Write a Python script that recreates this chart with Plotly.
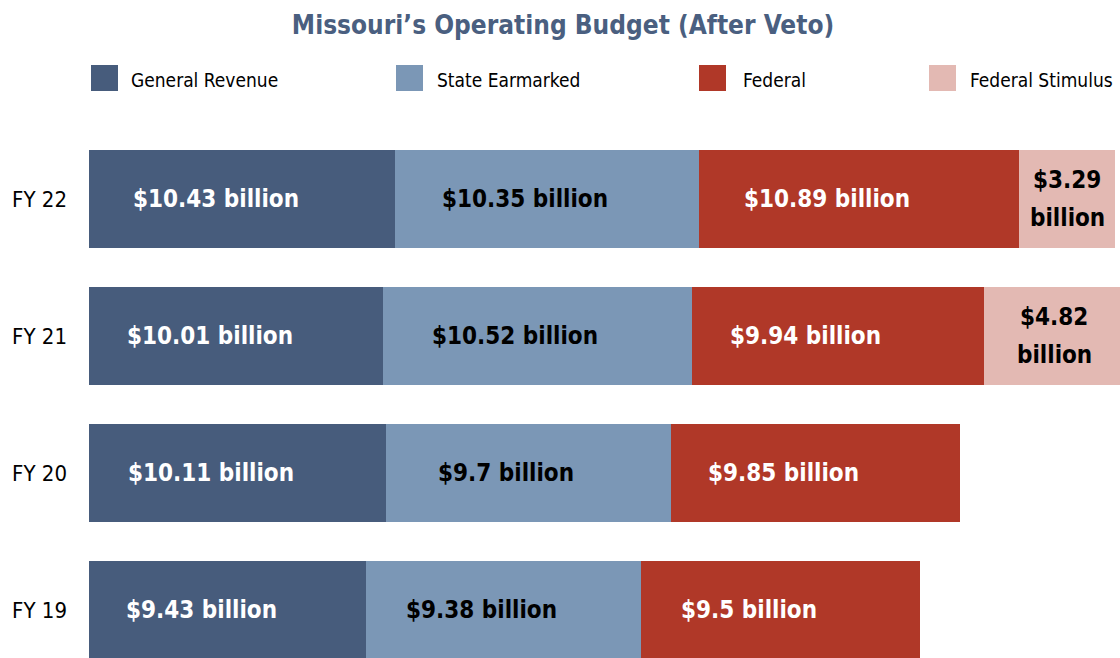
import plotly.graph_objects as go

# ---------------- data ----------------
years = ["FY 19", "FY 20", "FY 21", "FY 22"]
general_revenue = [9.43, 10.11, 10.01, 10.43]
state_earmarked = [9.38, 9.7, 10.52, 10.35]
federal = [9.5, 9.85, 9.94, 10.89]
federal_stimulus = [None, None, 4.82, 3.29]
series_names = ["General Revenue", "State Earmarked", "Federal", "Federal Stimulus"]
title_text = "Missouri’s Operating Budget (After Veto)"

# ---------------- style ----------------
colors = ["#475C7C", "#7B97B6", "#B03828", "#E3B9B3"]
label_colors = ["#FFFFFF", "#000000", "#FFFFFF", "#000000"]
label_shift = [-26, -22, -32, 0]
FONT = "DejaVu Sans Condensed, Liberation Sans Narrow, sans-serif"

W, H = 1120, 658
L, R, T, B = 89, 0, 130, 0
X_MAX = 35.115
Y_RANGE = [-0.35, 3.504]


def pxx(px):
    return (px - L) / (W - L - R)


def pxy(py):
    return (H - B - py) / (H - T - B)


fig = go.Figure()
series = [general_revenue, state_earmarked, federal, federal_stimulus]
base = [0.0] * len(years)
annotations = []
for name, vals, col, tcol, shift in zip(series_names, series, colors, label_colors, label_shift):
    fig.add_trace(go.Bar(
        y=years, x=vals, orientation="h", name=name,
        marker=dict(color=col, line=dict(width=0)),
        width=0.715, showlegend=False,
    ))
    lab_font = dict(family=FONT, size=24, color=tcol, weight="bold")
    for i, (yr, v) in enumerate(zip(years, vals)):
        if v is None:
            continue
        xc = base[i] + v / 2
        if name == "Federal Stimulus":
            for line, ys in ((f"${v:g}", 19), ("billion", -19)):
                annotations.append(dict(
                    x=xc, y=yr, xref="x", yref="y", text=line,
                    showarrow=False, xshift=shift, yshift=ys,
                    xanchor="center", yanchor="middle", font=lab_font,
                ))
        else:
            annotations.append(dict(
                x=xc, y=yr, xref="x", yref="y", text=f"${v:g} billion",
                showarrow=False, xshift=shift,
                xanchor="center", yanchor="middle", font=lab_font,
            ))
        base[i] += v

# custom legend
leg_sq_x = [91, 396, 699, 929]
leg_txt_x = [129, 435, 741, 968]
shapes = []
for name, col, sx, tx in zip(series_names, colors, leg_sq_x, leg_txt_x):
    shapes.append(dict(
        type="rect", xref="paper", yref="paper",
        x0=pxx(sx), x1=pxx(sx + 27), y0=pxy(91), y1=pxy(65),
        fillcolor=col, line=dict(width=0), layer="above",
    ))
    annotations.append(dict(
        x=pxx(tx), y=pxy(80), xref="paper", yref="paper", text=name,
        showarrow=False, xanchor="left", yanchor="middle",
        font=dict(family=FONT, size=19, color="#000000"),
    ))

fig.update_layout(
    width=W, height=H,
    margin=dict(l=L, r=R, t=T, b=B, pad=0),
    barmode="stack",
    paper_bgcolor="white", plot_bgcolor="white",
    title=dict(
        text=title_text, xref="container", yref="container",
        x=563 / W, y=1 - 25 / H, xanchor="center", yanchor="middle",
        font=dict(family=FONT, size=26, color="#4A5F80", weight="bold"),
    ),
    xaxis=dict(visible=False, range=[0, X_MAX], fixedrange=True),
    yaxis=dict(
        type="category", categoryorder="array", categoryarray=years,
        range=Y_RANGE, showgrid=False, zeroline=False, showline=False,
        ticks="", ticklabelstandoff=21, automargin=False, fixedrange=True,
        tickfont=dict(family=FONT, size=22, color="#000000"),
    ),
    annotations=annotations,
    shapes=shapes,
    showlegend=False,
)

fig.write_html(
    "out.html",
    config={"displayModeBar": False},
    post_script="document.body.style.margin='0px';",
)
